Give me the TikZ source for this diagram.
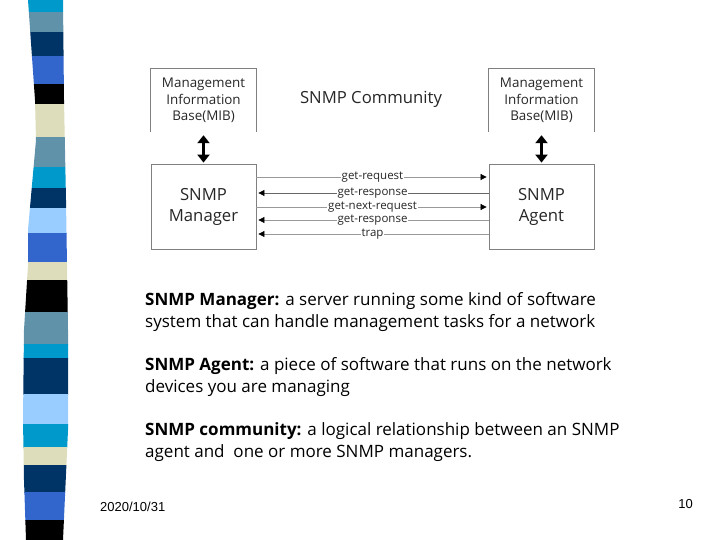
\documentclass[tikz,border=0pt]{standalone}
\usepackage{fontspec}
\setmainfont{Open Sans}
\newfontfamily\arialf{Liberation Sans}
\usetikzlibrary{arrows.meta}
\definecolor{cCyan}{RGB}{0,153,204}
\definecolor{cSteel}{RGB}{96,146,170}
\definecolor{cNavy}{RGB}{0,51,102}
\definecolor{cRoyal}{RGB}{51,102,204}
\definecolor{cBeige}{RGB}{221,221,187}
\definecolor{cLight}{RGB}{153,204,255}
\definecolor{cBlack}{RGB}{0,0,0}
\tikzset{
  boxline/.style={draw=black!50, line width=0.8pt},
  mibtext/.style={font=\fontsize{13.4}{16.5}\selectfont, align=center, text=black!85, minimum width=105pt, minimum height=63pt, inner sep=0pt},
  bigbox/.style={boxline, font=\fontsize{16.7}{21}\selectfont, align=center, text=black!85, minimum width=105pt, minimum height=85pt, inner sep=0pt},
  bigarrow/.style={line width=3pt, {Triangle[length=8pt,width=12pt]}-{Triangle[length=8pt,width=12pt]}},
  msgline/.style={draw=black!40, line width=0.7pt},
  toright/.style={msgline, -{Triangle[length=6pt,width=6pt,color=black]}, shorten >=2pt},
  toleft/.style={msgline, {Triangle[length=6pt,width=6pt,color=black]}-, shorten <=2pt},
  lbl/.style={fill=white, font=\fontsize{11.5}{12}\selectfont, text=black!85, inner sep=1pt, midway},
  body/.style={font=\fontsize{17}{22}\selectfont, anchor=base west, inner sep=0pt},
  foot/.style={font=\arialf\fontsize{13}{15}\selectfont, inner sep=0pt}
}
\begin{document}
\begin{tikzpicture}[x=1pt,y=-1pt]
\useasboundingbox (0,0) rectangle (720,540);
% decorative stripe
\begin{scope}
\clip (28,0) -- (63,0) -- (64,100) -- (66,200) -- (68,330) -- (68,430) -- (63,540) -- (26,540) -- (24,480) -- (23,420) -- (24,330) -- (28,265) -- (28,230) -- (36,140) -- (35,100) -- cycle;
\foreach \a/\b/\c in {0/12/cCyan,12/32/cSteel,32/56/cNavy,56/84/cRoyal,84/104/cBlack,104/137/cBeige,137/167/cSteel,167/188/cCyan,188/208/cNavy,208/233/cLight,233/262/cRoyal,262/280/cBeige,280/312/cBlack,312/344/cSteel,344/358/cCyan,358/394/cNavy,394/424/cLight,424/447/cCyan,447/465/cBeige,465/492/cNavy,492/520/cRoyal,520/540/cBlack}
  \fill[\c] (0,\a) rectangle (80,\b+0.5);
\end{scope}
% diagram
\node[mibtext] (mibL) at (203.5,100.5) {Management\\Information\\Base(MIB)};
\node[mibtext] (mibR) at (541.5,100.5) {Management\\Information\\Base(MIB)};
\draw[boxline] (mibL.south west) |- (mibL.north east) -- (mibL.south east);
\draw[boxline] (mibR.south west) |- (mibR.north east) -- (mibR.south east);
\node[font=\fontsize{16.7}{18}\selectfont, text=black!85] (title) at (371,99) {SNMP Community};
\node[bigbox] (mgr) at (203.5,206.5) {SNMP\\Manager};
\node[bigbox] (agt) at (541.5,206.5) {SNMP\\Agent};
\draw[bigarrow] ([yshift=-3pt]mibL.south) -- ([yshift=1pt]mgr.north);
\draw[bigarrow] ([yshift=-3pt]mibR.south) -- ([yshift=1pt]agt.north);
\coordinate (m1) at (0,177);
\coordinate (m2) at (0,193);
\coordinate (m3) at (0,207);
\coordinate (m4) at (0,220);
\coordinate (m5) at (0,234);
\draw[toright] (mgr.east |- m1) -- (agt.west |- m1) node[lbl] {get-request};
\draw[toleft, draw=black!60] (mgr.east |- m2) -- (agt.west |- m2) node[lbl] {get-response};
\draw[toright] (mgr.east |- m3) -- (agt.west |- m3) node[lbl] {get-next-request};
\draw[toleft] (mgr.east |- m4) -- (agt.west |- m4) node[lbl] {get-response};
\draw[toleft] (mgr.east |- m5) -- (agt.west |- m5) node[lbl] {trap};
% body text
\node[body] (p1a) at (145,305) {\textbf{SNMP Manager:} a server running some kind of software};
\node[body] (p1b) at (145,327) {system that can handle management tasks for a network};
\node[body] (p2a) at (145,370) {\textbf{SNMP Agent:} a piece of software that runs on the network};
\node[body] (p2b) at (145,392) {devices you are managing};
\node[body] (p3a) at (145,435) {\textbf{SNMP community:} a logical relationship between an SNMP};
\node[body] (p3b) at (145,457) {agent and\ \ one or more SNMP managers.};
% footer
\node[foot, anchor=base west] (date) at (100,511) {2020/10/31};
\node[foot, anchor=base east] (page) at (693,508) {10};
\end{tikzpicture}
\end{document}
